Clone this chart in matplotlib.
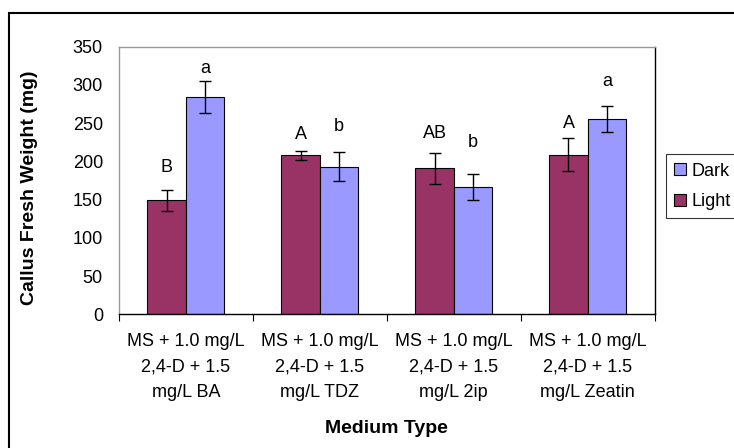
import numpy as np
import matplotlib
matplotlib.use("Agg")
import matplotlib.pyplot as plt
from matplotlib.patches import Rectangle

categories = ["MS + 1.0 mg/L\n2,4-D + 1.5\nmg/L BA",
              "MS + 1.0 mg/L\n2,4-D + 1.5\nmg/L TDZ",
              "MS + 1.0 mg/L\n2,4-D + 1.5\nmg/L 2ip",
              "MS + 1.0 mg/L\n2,4-D + 1.5\nmg/L Zeatin"]
light = [149, 208, 191, 209]
light_err = [13.5, 6, 20, 22]
dark = [284, 193, 167, 256]
dark_err = [21, 19, 17, 17]
light_letters = ["B", "A", "AB", "A"]
dark_letters = ["a", "b", "b", "a"]
light_letter_y = [192, 235, 236, 250]
dark_letter_y = [321, 245, 225, 305]

plt.rcParams['font.family'] = ['Liberation Sans', 'DejaVu Sans']

fig = plt.figure(figsize=(7.34, 4.48), dpi=100)
ax = fig.add_axes([0.162, 0.2984, 0.730, 0.5974])

x = np.arange(len(categories))
w = 0.2875
ax.bar(x - w/2, light, w, color="#993366", edgecolor="black", linewidth=0.8,
       yerr=light_err, error_kw=dict(ecolor="black", elinewidth=1, capsize=4, capthick=1),
       label="Light", zorder=2)
ax.bar(x + w/2, dark, w, color="#9999FF", edgecolor="black", linewidth=0.8,
       yerr=dark_err, error_kw=dict(ecolor="black", elinewidth=1, capsize=4, capthick=1),
       label="Dark", zorder=2)

for i in range(len(categories)):
    ax.text(x[i] - w/2, light_letter_y[i], light_letters[i], ha="center", va="center", fontsize=13)
    ax.text(x[i] + w/2, dark_letter_y[i], dark_letters[i], ha="center", va="center", fontsize=13)

ax.set_xlim(-0.5, len(categories) - 0.5)
ax.set_ylim(0, 350)
ax.set_yticks(np.arange(0, 351, 50))
ax.tick_params(axis="y", length=0, labelsize=13, pad=11.5)
ax.set_xticks(x)
ax.set_xticklabels(categories, fontsize=13, linespacing=1.67)
ax.tick_params(axis="x", length=0, pad=13.5)
ax.set_xticks(np.arange(-0.5, len(categories), 1), minor=True)
ax.tick_params(axis="x", which="minor", length=5, width=0.8, direction="out")

ax.spines["left"].set_color("#999999")
ax.spines["top"].set_color("#999999")
ax.spines["right"].set_color("black")
ax.spines["bottom"].set_color("black")
for s in ax.spines.values():
    s.set_linewidth(1)

ax.set_xlabel("Medium Type", fontsize=14, fontweight="bold", va="center")
ax.xaxis.set_label_coords(0.5, -0.425)
ax.set_ylabel("Callus Fresh Weight (mg)", fontsize=14, fontweight="bold", va="center")
ax.yaxis.set_label_coords(-0.167, 0.472)

handles, labels = ax.get_legend_handles_labels()
leg = fig.legend(handles[::-1], labels[::-1], loc="center left",
                 bbox_to_anchor=(0.907, 0.584), fontsize=13, frameon=True,
                 fancybox=False, edgecolor="black", handlelength=0.65, handleheight=0.65,
                 handletextpad=0.3, borderpad=0.45, labelspacing=0.75, borderaxespad=0)
leg.get_frame().set_linewidth(0.8)

fig.patches.append(Rectangle((9/734, -0.1), 1.2, 1 - 13.5/448 + 0.1,
                             transform=fig.transFigure, fill=False,
                             edgecolor="black", linewidth=1.5))

fig.savefig("out.png", dpi=100)
